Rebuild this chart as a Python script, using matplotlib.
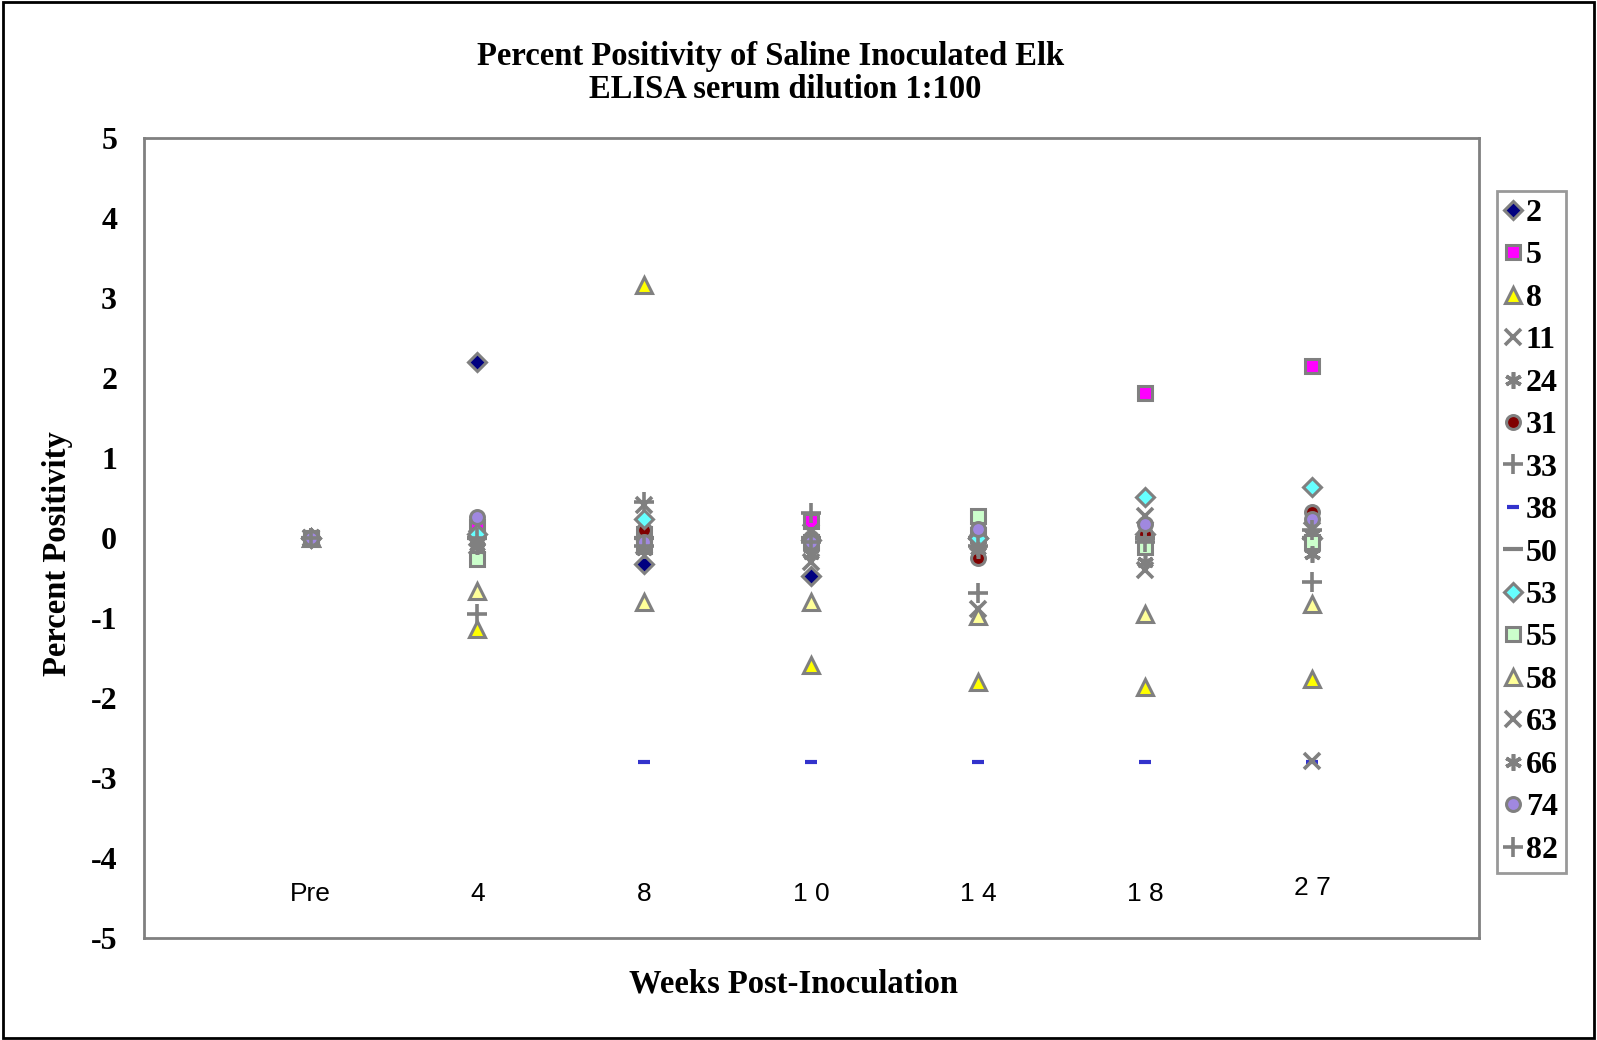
import matplotlib.pyplot as plt
from matplotlib.patches import Rectangle
import numpy as np

weeks = ["Pre", "4", "8", "10", "14", "18", "27"]
week_labels = ["Pre", "4", "8", "1 0", "1 4", "1 8", "2 7"]

elk_2 = [0, 2.2, -0.32, -0.47, 0.0, 0.05, 0.0]
elk_5 = [0, 0.14, 0.05, 0.22, 0.04, 1.81, 2.15]
elk_8 = [0, -1.13, 3.16, -1.58, -1.8, -1.86, -1.76]
elk_11 = [0, 0.0, 0.41, 0.08, -0.05, 0.28, 0.1]
elk_24 = [0, -0.05, 0.0, -0.1, -0.1, -0.1, 0.05]
elk_31 = [0, 0.05, 0.1, 0.0, -0.25, 0.05, 0.33]
elk_33 = [0, -0.95, 0.45, 0.32, -0.68, 0.0, -0.55]
elk_38 = [0, 0.0, -2.8, -2.8, -2.8, -2.8, -2.8]
elk_50 = [0, 0, 0, 0, 0, 0, 0]
elk_53 = [0, 0.05, 0.24, -0.02, 0.0, 0.51, 0.64]
elk_55 = [0, -0.26, -0.1, -0.05, 0.28, -0.11, -0.05]
elk_58 = [0, -0.66, -0.8, -0.8, -0.97, -0.95, -0.82]
elk_63 = [0, -0.1, -0.1, -0.3, -0.88, -0.4, -2.78]
elk_66 = [0, -0.1, -0.15, -0.2, -0.15, -0.3, -0.2]
elk_74 = [0, 0.26, -0.05, -0.05, 0.12, 0.18, 0.24]
elk_82 = [0, 0.0, -0.1, -0.05, -0.1, -0.05, 0.1]

edge = "#808080"
# (label, values, marker, face colour, size)
series = [
    ("2", elk_2, "D", "#000080", 9),
    ("5", elk_5, "s", "#FF00FF", 10),
    ("8", elk_8, "^", "#FFFF00", 12),
    ("11", elk_11, "x", edge, 11),
    ("24", elk_24, (6, 2, 0), edge, 12),
    ("31", elk_31, "o", "#800000", 10),
    ("33", elk_33, "+", edge, 14),
    ("38", elk_38, "_", "#3333CC", 8),
    ("50", elk_50, "_", edge, 14),
    ("53", elk_53, "D", "#66FFFF", 9),
    ("55", elk_55, "s", "#CCFFCC", 10),
    ("58", elk_58, "^", "#FFFF99", 12),
    ("63", elk_63, "x", edge, 11),
    ("66", elk_66, (6, 2, 0), edge, 12),
    ("74", elk_74, "o", "#A088E0", 10),
    ("82", elk_82, "+", edge, 14),
]

fig = plt.figure(figsize=(15.97, 10.40), dpi=100)
ax = fig.add_axes([0.0899, 0.098, 0.8363, 0.769])

x = np.arange(1, len(weeks) + 1)
for label, vals, mk, fc, ms in series:
    if mk in ("x", "+", "_") or isinstance(mk, tuple):
        ax.plot(x, vals, linestyle="none", marker=mk, markersize=ms,
                color=fc, markeredgecolor=fc if mk == "_" else edge,
                markeredgewidth=2.6 if mk != "_" else 3, label=label)
    else:
        ax.plot(x, vals, linestyle="none", marker=mk, markersize=ms,
                markerfacecolor=fc, markeredgecolor=edge,
                markeredgewidth=2.2, label=label)

ax.set_xlim(0, 8)
ax.set_ylim(-5, 5)
ax.set_xticks([])
yt = list(range(-5, 6))
ax.set_yticks(yt)
ax.set_yticklabels([str(v) for v in yt])
ax.tick_params(axis="y", length=0, pad=19)
for t in ax.get_yticklabels():
    t.set_fontfamily("Liberation Serif")
    t.set_fontweight("bold")
    t.set_fontsize(23)
for s in ax.spines.values():
    s.set_color("#808080")
    s.set_linewidth(2)

for xi, lab in zip(x, week_labels):
    yy = -4.38 if lab == "2 7" else -4.45
    ax.text(xi, yy, lab, ha="center", va="center", fontsize=19,
            family="Liberation Sans")

fig.text(0.4828, 0.946, "Percent Positivity of Saline Inoculated Elk",
         ha="center", va="center", fontsize=23.5, fontweight="bold",
         family="Liberation Serif")
fig.text(0.4916, 0.914, "ELISA serum dilution 1:100",
         ha="center", va="center", fontsize=23.5, fontweight="bold",
         family="Liberation Serif")
fig.text(0.036, 0.468, "Percent Positivity", rotation=90,
         ha="center", va="center", fontsize=23.5, fontweight="bold",
         family="Liberation Serif")
fig.text(0.497, 0.054, "Weeks Post-Inoculation",
         ha="center", va="center", fontsize=23.5, fontweight="bold",
         family="Liberation Serif")

leg = fig.legend(loc="upper left", bbox_to_anchor=(0.9374, 0.8168),
                 frameon=True, fancybox=False, handlelength=0.5,
                 handletextpad=0.15, labelspacing=0.41, borderpad=0.25,
                 borderaxespad=0,
                 prop={"family": "Liberation Serif", "weight": "bold",
                       "size": 23})
leg.get_frame().set_edgecolor("#808080")
leg.get_frame().set_linewidth(2)

fig.patches.append(Rectangle((0.002, 0.002), 0.996, 0.996,
                             transform=fig.transFigure, fill=False,
                             edgecolor="black", linewidth=2))

fig.savefig("out.png", dpi=100)
